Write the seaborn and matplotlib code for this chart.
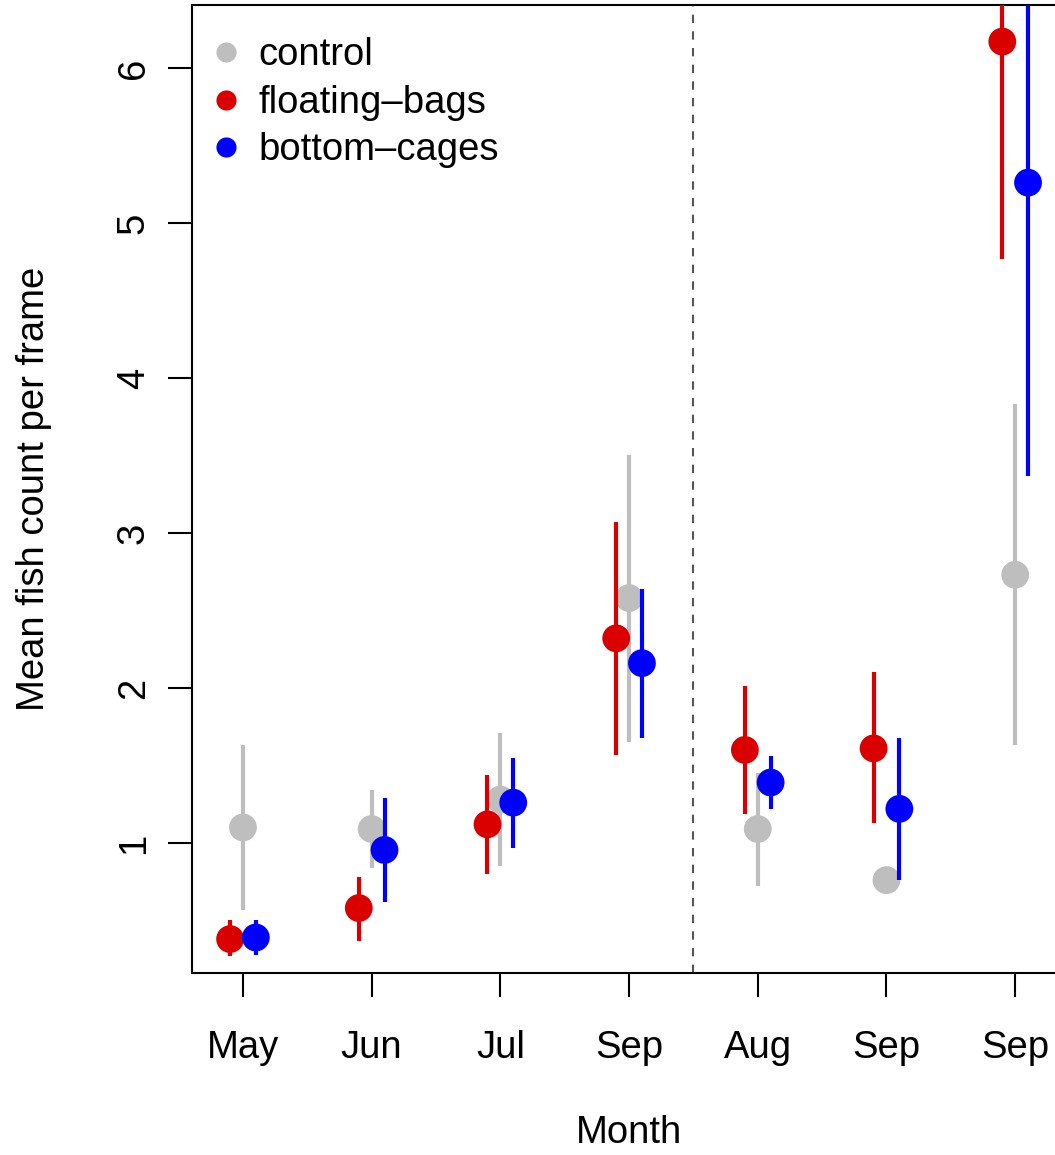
import numpy as np
import pandas as pd
import matplotlib
matplotlib.use("Agg")
import matplotlib.pyplot as plt
import seaborn as sns
from matplotlib.lines import Line2D

# ---- data ----
months = ["May", "Jun", "Jul", "Sep", "Aug", "Sep", "Sep"]
treatments = ["control", "floating\u2013bags", "bottom\u2013cages"]

control_mean = [1.10, 1.09, 1.28, 2.58, 1.09, 0.76, 2.73]
control_lo = [0.57, 0.84, 0.85, 1.65, 0.72, 0.70, 1.63]
control_hi = [1.63, 1.34, 1.71, 3.50, 1.45, 0.83, 3.83]

floating_mean = [0.38, 0.58, 1.12, 2.32, 1.60, 1.61, 6.17]
floating_lo = [0.27, 0.37, 0.80, 1.57, 1.19, 1.13, 4.77]
floating_hi = [0.50, 0.78, 1.44, 3.07, 2.01, 2.10, 7.60]

bottom_mean = [0.39, 0.955, 1.26, 2.16, 1.39, 1.22, 5.26]
bottom_lo = [0.28, 0.62, 0.97, 1.68, 1.22, 0.76, 3.37]
bottom_hi = [0.50, 1.29, 1.55, 2.64, 1.56, 1.68, 7.20]

palette = ["#BEBEBE", "#DA0000", "#0000FF"]
offsets = [0.0, -0.1, 0.1]

series = [
    (control_mean, control_lo, control_hi),
    (floating_mean, floating_lo, floating_hi),
    (bottom_mean, bottom_lo, bottom_hi),
]

rows = []
for k, t in enumerate(treatments):
    m, lo, hi = series[k]
    for i in range(len(months)):
        rows.append({"treatment": t, "idx": i + 1, "x": i + 1 + offsets[k],
                     "mean": m[i], "lo": lo[i], "hi": hi[i]})
df = pd.DataFrame(rows)

# ---- figure ----
sns.set_style("white")
plt.rcParams["font.family"] = ["Liberation Sans", "DejaVu Sans"]
plt.rcParams["text.color"] = "black"
plt.rcParams["axes.labelcolor"] = "black"
plt.rcParams["xtick.color"] = "black"
plt.rcParams["ytick.color"] = "black"

fig = plt.figure(figsize=(10.55, 11.55), dpi=100)
W, H = 1055, 1155
x0, x1 = 0.604, 7.4
px_per_unit = 128.7
left = 192 / W
width = (x1 - x0) * px_per_unit / W
bottom = (H - 973) / H
height = (973 - 5) / H
ax = fig.add_axes([left, bottom, width, height])

for z, t in enumerate(treatments):
    sub = df[df.treatment == t]
    ax.vlines(sub["x"], sub["lo"], sub["hi"], colors=palette[z], linewidth=3.0,
              zorder=2 + 2 * z)
    sns.scatterplot(data=sub, x="x", y="mean", color=palette[z], s=400,
                    edgecolor="none", linewidth=0, ax=ax, zorder=3 + 2 * z,
                    legend=False)

ax.axvline(4.5, color="#555555", linestyle=(0, (4, 4)), linewidth=1.5, zorder=1)

FS = 27.5
ax.set_xlim(x0, x1)
ax.set_ylim(0.161, 6.406)
ax.set_xticks(range(1, len(months) + 1))
ax.set_xticklabels(months)
ax.set_yticks([1, 2, 3, 4, 5, 6])
ax.set_yticklabels(["1", "2", "3", "4", "5", "6"], rotation=90, va="center")

for s in ax.spines.values():
    s.set_color("black")
    s.set_linewidth(1.5)
ax.tick_params(axis="both", direction="out", length=17, width=1.5,
               color="black", labelcolor="black", labelsize=FS, pad=12,
               bottom=True, left=True)
ax.tick_params(axis="x", pad=24)

ax.set_xlabel("Month", fontsize=FS, labelpad=35, color="black")
ax.set_ylabel("Mean fish count per frame", fontsize=FS, labelpad=46, color="black")

handles = [Line2D([0], [0], marker="o", linestyle="none", markersize=14.5,
                  markerfacecolor=palette[k], markeredgecolor="none")
           for k in range(len(treatments))]
leg = ax.legend(handles, treatments, loc="upper left", bbox_to_anchor=(-0.0155, 1.0),
                frameon=False, fontsize=FS, handlelength=0.8, handletextpad=0.45,
                labelspacing=0.3, borderaxespad=0.5, borderpad=0.35)
for txt in leg.get_texts():
    txt.set_color("black")

fig.savefig("out.png", dpi=100)
